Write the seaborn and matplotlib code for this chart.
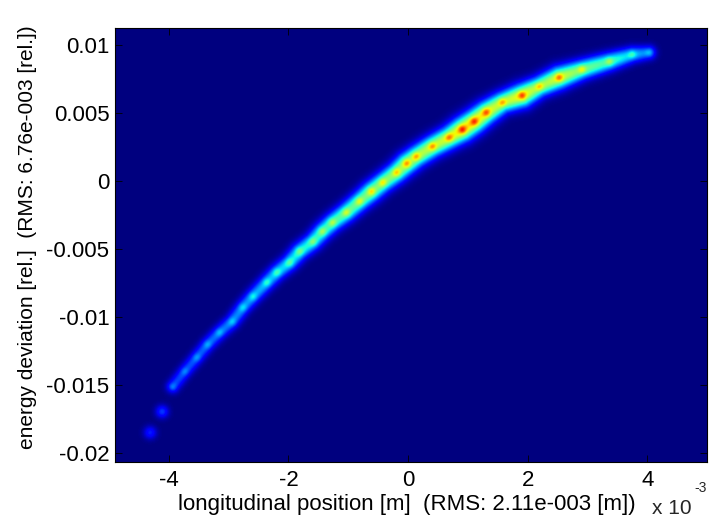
import numpy as np
import matplotlib
matplotlib.use('Agg')
import matplotlib.pyplot as plt
import seaborn as sns

# Beam centre-line nodes
# longitudinal position (units of 1e-3 m), energy deviation (rel.), relative density (0..1)
pos_e3 = [4.02, 3.74, 3.36, 2.90, 2.52, 2.19, 1.90, 1.57, 1.30, 1.10, 0.90, 0.68,
          0.40, 0.13, -0.03, -0.20, -0.43, -0.62, -0.82, -1.04, -1.27, -1.44, -1.60,
          -1.82, -1.99, -2.20, -2.37, -2.60, -2.77, -2.95, -3.16, -3.36, -3.54, -3.74,
          -3.94, -4.12, -4.32]
energy = [0.00941, 0.00926, 0.00875, 0.00816, 0.00757, 0.00691, 0.00625, 0.00574,
          0.00500, 0.00434, 0.00375, 0.00316, 0.00250, 0.00176, 0.00125, 0.00059,
          -0.00015, -0.00081, -0.00154, -0.00235, -0.00309, -0.00375, -0.00449,
          -0.00522, -0.00603, -0.00676, -0.00750, -0.00853, -0.00934, -0.01037,
          -0.01118, -0.01206, -0.01301, -0.01404, -0.01515, -0.01699, -0.01853]
density = [0.34, 0.46, 0.60, 0.70, 0.86, 0.76, 0.92, 0.80, 0.90, 0.95, 0.97, 0.86,
           0.82, 0.80, 0.82, 0.76, 0.72, 0.74, 0.68, 0.66, 0.62, 0.60, 0.56, 0.54,
           0.50, 0.47, 0.44, 0.41, 0.38, 0.36, 0.34, 0.32, 0.30, 0.28, 0.27, 0.24, 0.20]

x_ticks = [-4, -2, 0, 2, 4]
y_ticks = [-0.02, -0.015, -0.01, -0.005, 0, 0.005, 0.01]
y_tick_labels = ['-0.02', '-0.015', '-0.01', '-0.005', '0', '0.005', '0.01']
x_label = 'longitudinal position [m]  (RMS: 2.11e-003 [m])'
y_label = 'energy deviation [rel.]  (RMS: 6.76e-003 [rel.])'

sns.set_theme(style='white')
plt.rcParams['font.family'] = ['Liberation Sans', 'DejaVu Sans']

fig = plt.figure(figsize=(7.09, 5.23), dpi=100)
ax = fig.add_axes([0.1622, 0.1166, 0.835, 0.830])
xlim = (-4.9, 5.0)
ylim = (-0.02066, 0.01125)

# density image rendered from the nodes, in pixel-like units
nx, ny = 592, 434
gx = np.linspace(xlim[0], xlim[1], nx)
gy = np.linspace(ylim[0], ylim[1], ny)
X, Y = np.meshgrid(gx, gy)
ux = (xlim[1] - xlim[0]) / 592
uy = (ylim[1] - ylim[0]) / 434
PX, PY = X / ux, Y / uy
nxp = np.array(pos_e3) / ux
nyp = np.array(energy) / uy
dens = np.array(density)

ribbon = np.zeros_like(X)
n_ribbon = len(pos_e3) - 2  # last two spots are isolated
for i in range(n_ribbon - 1):
    ax_, ay_ = nxp[i], nyp[i]
    bx_, by_ = nxp[i + 1], nyp[i + 1]
    dx, dy = bx_ - ax_, by_ - ay_
    L2 = dx * dx + dy * dy
    t = np.clip(((PX - ax_) * dx + (PY - ay_) * dy) / L2, 0, 1)
    d2 = (PX - ax_ - t * dx) ** 2 + (PY - ay_ - t * dy) ** 2
    lev = dens[i] * (1 - t) + dens[i + 1] * t
    sig = 3.2 + 5.0 * lev
    ribbon = np.maximum(ribbon, 0.70 * lev * np.exp(-0.5 * d2 / sig ** 2))

spots = np.zeros_like(X)
for i in range(len(pos_e3)):
    r2 = (PX - nxp[i]) ** 2 + (PY - nyp[i]) ** 2
    big = i >= n_ribbon
    s = 4.5 if big else 2.8
    amp = 0.75 if big else 0.22
    spots = np.maximum(spots, amp * dens[i] * np.exp(-0.5 * r2 / s ** 2))

Z = np.clip(ribbon + spots, 0, 1)

cmap = plt.get_cmap('jet')
ax.set_facecolor(cmap(0.0))
ax.imshow(Z, origin='lower', extent=[xlim[0], xlim[1], ylim[0], ylim[1]],
          aspect='auto', cmap=cmap, vmin=0, vmax=1, interpolation='bilinear')
ax.set_xlim(xlim)
ax.set_ylim(ylim)

ax.set_xticks(x_ticks)
ax.set_xticklabels([str(t) for t in x_ticks])
ax.set_yticks(y_ticks)
ax.set_yticklabels(y_tick_labels)
ax.tick_params(axis='both', which='both', direction='in', length=5, width=0.6,
               color='black', labelsize=16, labelcolor='black', top=True, right=True,
               bottom=True, left=True)
ax.tick_params(axis='x', pad=6)
ax.tick_params(axis='y', pad=4)
for s in ax.spines.values():
    s.set_visible(True)
    s.set_color('black')
    s.set_linewidth(0.8)

ax.set_xlabel(x_label, fontsize=16, color='black')
ax.set_ylabel(y_label, fontsize=15, color='black')
ax.xaxis.set_label_coords(0.493, -0.099)
ax.xaxis.label.set_verticalalignment('center')
ax.yaxis.set_label_coords(-0.147, 0.518)
ax.yaxis.label.set_verticalalignment('center')

fig.text(652 / 709, 1 - 508 / 523, 'x 10', fontsize=15, ha='left', va='center')
fig.text(694 / 709, 1 - 488 / 523, '-3', fontsize=10, ha='left', va='center')

fig.savefig('out.png', dpi=100)
